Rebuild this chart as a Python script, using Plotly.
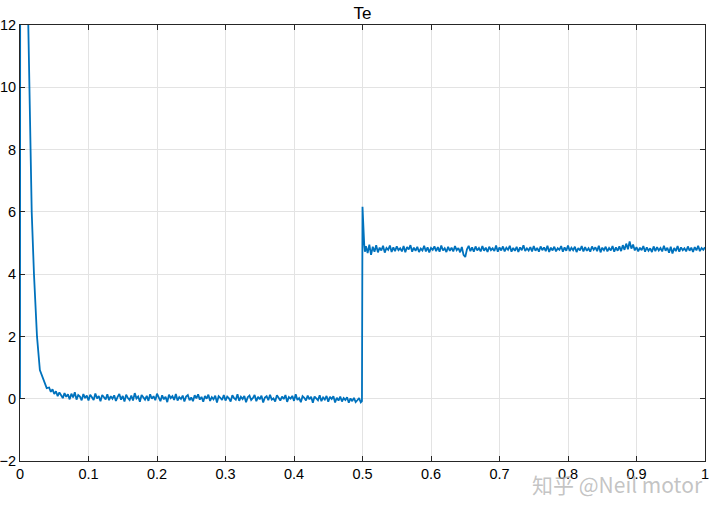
# Te torque trace, scope style
import numpy as np
import plotly.graph_objects as go

# start-up transient (t, Te)
t_start = [0.0, 0.0008, 0.0121, 0.0136, 0.0151, 0.0171, 0.0204, 0.0248, 0.029, 0.034, 0.039]
te_start = [0.0, 40.0, 12.0, 10.0, 8.0, 6.0, 4.0, 2.0, 0.92, 0.6, 0.34]

# no-load section, sampled every 2.5 ms from t = 0.0425
low_t0 = 0.0425
low_dt = 0.0025
te_low = [
    0.36, 0.22, 0.30, 0.15, 0.24, 0.08, 0.20, 0.12, 0.02, 0.18, 0.06, 0.14, -0.02, 0.16, 0.04, 0.21, -0.03, 0.12, 0.07, -0.05,
    0.15, 0.02, 0.10, -0.06, 0.13, 0.05, -0.04, 0.17, 0.01, 0.09, -0.08, 0.12, 0.03, -0.02, 0.14, -0.05, 0.08, 0.00, 0.11, -0.07,
    0.06, 0.15, -0.03, 0.09, -0.09, 0.13, 0.02, -0.04, 0.10, -0.06, 0.18, 0.01, 0.07, -0.10, 0.12, 0.04, -0.03, 0.09, -0.07, 0.14,
    0.00, 0.08, -0.05, 0.16, 0.03, -0.08, 0.11, -0.02, 0.06, -0.11, 0.13, 0.02, 0.08, -0.04, 0.15, -0.06, 0.05, -0.01, 0.10, -0.09,
    0.07, 0.12, -0.05, 0.04, -0.08, 0.11, 0.01, 0.14, -0.03, 0.06, -0.10, 0.09, 0.00, 0.13, -0.07, 0.05, -0.02, 0.10, -0.12, 0.08,
    0.03, -0.04, 0.12, -0.06, 0.07, 0.01, -0.09, 0.11, 0.02, -0.03, 0.14, -0.07, 0.06, -0.01, 0.09, -0.11, 0.05, 0.10, -0.04, 0.02,
    0.12, -0.08, 0.06, -0.02, 0.10, -0.12, 0.04, 0.08, -0.05, 0.13, -0.03, 0.01, -0.09, 0.11, 0.03, -0.06, 0.07, -0.01, 0.12, -0.10,
    0.05, 0.00, 0.09, -0.07, 0.14, -0.04, 0.02, -0.11, 0.08, 0.03, -0.06, 0.10, -0.02, 0.06, -0.13, 0.07, 0.01, -0.05, 0.11, -0.08,
    0.04, -0.03, 0.09, -0.10, 0.06, -0.01, 0.08, -0.12, 0.03, -0.06, 0.07, -0.09, 0.02, -0.04, 0.05, -0.13, 0.01, -0.08, 0.03, -0.11,
]

# load step at t = 0.5
t_step = [0.4925, 0.495, 0.4975, 0.4992, 0.5000, 0.5012, 0.5025, 0.5035]
te_step = [-0.05, 0.02, -0.12, -0.08, 6.16, 5.4, 4.95, 4.72]

# loaded section, sampled every 2.5 ms from t = 0.505
high_t0 = 0.505
high_dt = 0.0025
te_high = [
    4.90, 4.68, 4.95, 4.62, 4.88, 4.72, 4.93, 4.70, 4.85, 4.76, 4.91, 4.69, 4.84, 4.78, 4.92, 4.71, 4.86, 4.74, 4.89, 4.77,
    4.83, 4.73, 4.90, 4.70, 4.87, 4.79, 4.93, 4.72, 4.85, 4.75, 4.88, 4.71, 4.82, 4.76, 4.91, 4.73, 4.86, 4.70, 4.84, 4.78,
    4.89, 4.74, 4.87, 4.72, 4.92, 4.76, 4.83, 4.71, 4.88, 4.75, 4.85, 4.73, 4.90, 4.77, 4.84, 4.70, 4.87, 4.62, 4.55, 4.80,
    4.91, 4.74, 4.86, 4.72, 4.89, 4.76, 4.84, 4.73, 4.90, 4.75, 4.85, 4.71, 4.88, 4.77, 4.83, 4.74, 4.92, 4.72, 4.86, 4.76,
    4.89, 4.73, 4.85, 4.78, 4.91, 4.72, 4.84, 4.75, 4.88, 4.71, 4.86, 4.77, 4.93, 4.74, 4.83, 4.76, 4.87, 4.73, 4.90, 4.75,
    4.84, 4.72, 4.89, 4.77, 4.86, 4.74, 4.91, 4.71, 4.85, 4.76, 4.88, 4.73, 4.83, 4.78, 4.90, 4.72, 4.86, 4.75, 4.92, 4.74,
    4.85, 4.77, 4.88, 4.71, 4.84, 4.76, 4.90, 4.73, 4.87, 4.75, 4.83, 4.72, 4.89, 4.78, 4.86, 4.74, 4.91, 4.70, 4.85, 4.77,
    4.88, 4.73, 4.84, 4.76, 4.90, 4.72, 4.86, 4.75, 4.89, 4.74, 4.93, 4.78, 4.98, 4.80, 5.05, 4.82, 4.95, 4.76, 4.87, 4.73,
    4.85, 4.77, 4.90, 4.72, 4.86, 4.75, 4.83, 4.71, 4.89, 4.74, 4.87, 4.76, 4.84, 4.73, 4.91, 4.75, 4.85, 4.69, 4.88, 4.66,
    4.84, 4.74, 4.90, 4.72, 4.86, 4.77, 4.83, 4.73, 4.89, 4.75, 4.85, 4.71, 4.87, 4.76, 4.91, 4.74, 4.84, 4.78, 4.86,
]

x_ticks = [0, 0.1, 0.2, 0.3, 0.4, 0.5, 0.6, 0.7, 0.8, 0.9, 1]
x_tick_text = ['0', '0.1', '0.2', '0.3', '0.4', '0.5', '0.6', '0.7', '0.8', '0.9', '1']
y_ticks = [-2, 0, 2, 4, 6, 8, 10, 12]

t_low = low_t0 + low_dt * np.arange(len(te_low))
t_high = high_t0 + high_dt * np.arange(len(te_high))

t_all = np.concatenate([t_start, t_low, t_step, t_high])
te_all = np.concatenate([te_start, te_low, te_step, te_high])

font = 'Liberation Sans, Arial, sans-serif'

fig = go.Figure()
fig.add_trace(go.Scatter(x=t_all, y=te_all, mode='lines',
                         line={'color': '#0072BD', 'width': 1.8}, showlegend=False))

axis_common = dict(showline=True, linecolor='#262626', linewidth=1, mirror='ticks',
                   ticks='inside', ticklen=5, tickcolor='#262626',
                   showgrid=True, gridcolor='#e3e3e3', gridwidth=1,
                   zeroline=False, automargin=False,
                   tickfont={'family': font, 'size': 14.5, 'color': '#000000'})

fig.update_xaxes(range=[0, 1], tickvals=x_ticks, ticktext=x_tick_text, **axis_common)
fig.update_yaxes(range=[-2, 12], tickvals=y_ticks, ticklabelstandoff=0, **axis_common)

# watermark
fig.add_annotation(text='知乎 @Neil motor', xref='paper', yref='paper', x=1.0, y=-0.052,
                   xanchor='right', yanchor='middle', showarrow=False,
                   font={'family': 'Noto Sans CJK SC', 'size': 21, 'color': 'rgba(170,170,170,0.7)'})

fig.update_layout(
    width=720, height=509,
    margin={'l': 20, 'r': 15, 't': 25, 'b': 48},
    paper_bgcolor='white', plot_bgcolor='white',
    title={'text': 'Te', 'x': 0.5, 'xref': 'paper', 'y': 1 - 13 / 509, 'yanchor': 'middle',
           'font': {'family': font, 'size': 17, 'color': '#000000'}},
)

# drop the default 8px body margin so the figure sits at the page corner
fig.write_html("out.html", config={'displayModeBar': False},
               post_script="document.body.style.margin = '0';")
